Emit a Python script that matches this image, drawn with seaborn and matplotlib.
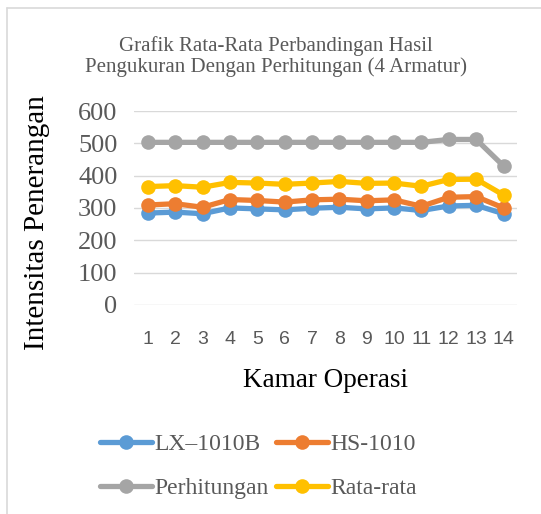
import pandas as pd
import matplotlib.pyplot as plt
import seaborn as sns
from matplotlib.lines import Line2D

# data
kamar = list(range(1, 15))
lx_1010b = [284, 287, 282, 300, 297, 294, 299, 302, 297, 300, 292, 306, 308, 282]
hs_1010 = [309, 313, 302, 326, 323, 318, 325, 327, 322, 325, 305, 333, 335, 300]
perhitungan = [503, 503, 503, 503, 503, 503, 503, 503, 503, 503, 503, 512, 512, 430]
rata_rata = [366, 369, 364, 379, 377, 373, 377, 382, 376, 377, 367, 388, 389, 340]

series = ["LX\u20131010B", "HS-1010", "Perhitungan", "Rata-rata"]
colors = ["#5B9BD5", "#ED7D31", "#A5A5A5", "#FFC000"]

df = pd.DataFrame({
    "Kamar": [str(k) for k in kamar] * 4,
    "Nilai": lx_1010b + hs_1010 + perhitungan + rata_rata,
    "Seri": sum([[s] * len(kamar) for s in series], []),
})

sns.set_theme(style="white")
plt.rcParams["font.family"] = ["Liberation Serif", "DejaVu Serif"]
txt = "#595959"

fig = plt.figure(figsize=(5.41, 5.14), dpi=100)
ax = fig.add_axes([0.248, 0.407, 0.708, 0.377])

sns.lineplot(
    data=df, x="Kamar", y="Nilai", hue="Seri", hue_order=series,
    palette=colors, marker="o", markersize=10.5, markeredgewidth=0,
    linewidth=3.8, sort=False, ax=ax, legend=False
)

ax.set_ylim(0, 600)
ax.set_xlim(-0.5, 13.5)
ax.set_yticks(range(0, 601, 100))
ax.yaxis.grid(True, color="#D9D9D9", linewidth=1)
ax.set_axisbelow(True)
for s in ax.spines.values():
    s.set_visible(False)
ax.tick_params(length=0)
ax.tick_params(axis="y", labelsize=19, labelcolor=txt, pad=12)
for lab in ax.get_xticklabels():
    lab.set_family("Liberation Sans")
    lab.set_fontsize(14)
    lab.set_color(txt)
ax.tick_params(axis="x", pad=19)

ax.set_xlabel("Kamar Operasi", fontsize=19.5, color="black", labelpad=14)
ax.set_ylabel("Intensitas Penerangan", fontsize=21, color="black")
ax.yaxis.set_label_coords(-0.219, 0.423)

fig.text(0.51, 0.89, "Grafik Rata-Rata Perbandingan Hasil\nPengukuran Dengan Perhitungan (4 Armatur)",
         ha="center", va="center", fontsize=15, color=txt, linespacing=1.12)

# legend filled row by row like the original
handles = [Line2D([], [], color=c, linewidth=3.8, marker="o", markersize=10.5,
                  markeredgewidth=0) for c in colors]
order = [0, 2, 1, 3]
fig.legend([handles[i] for i in order], [series[i] for i in order],
           loc="center", bbox_to_anchor=(0.478, 0.092), ncol=2,
           frameon=False, fontsize=17, labelcolor=txt, handlelength=2.2,
           handletextpad=0.1, columnspacing=0.3, labelspacing=0.95)

# chart area border (top and left edges visible)
fig.add_artist(Line2D([7 / 541, 1], [1 - 8 / 514, 1 - 8 / 514], color="#D9D9D9", linewidth=1.2))
fig.add_artist(Line2D([7 / 541, 7 / 541], [0, 1 - 8 / 514], color="#D9D9D9", linewidth=1.2))

plt.savefig("out.png", dpi=100)
plt.close()
